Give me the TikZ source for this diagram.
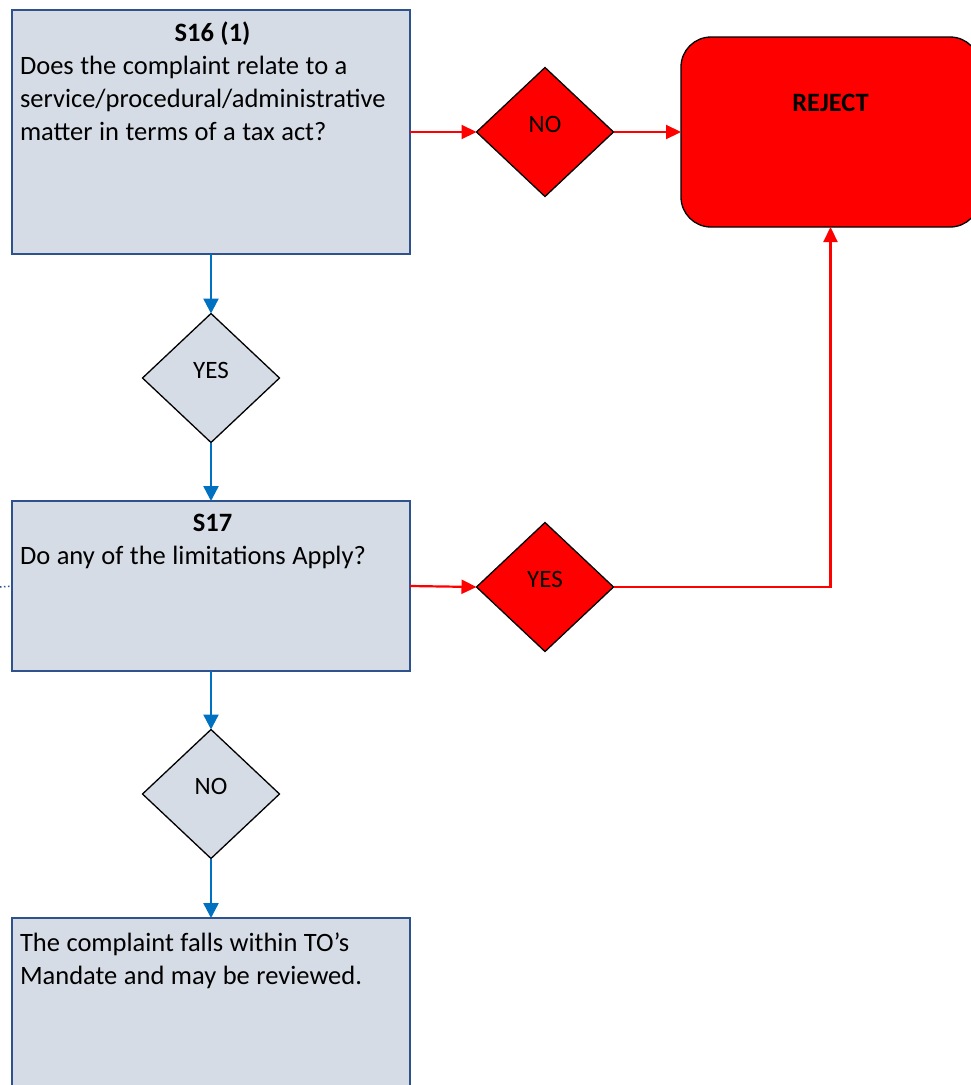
\documentclass[tikz,border=0pt]{standalone}
\usepackage{fontspec}
\setmainfont{Carlito}
\usetikzlibrary{shapes.geometric,arrows.meta}
\definecolor{boxfill}{RGB}{214,220,229}
\definecolor{boxline}{RGB}{47,82,143}
\definecolor{flowblue}{RGB}{0,112,192}

\begin{document}
\begin{tikzpicture}[x=1pt, y=-1pt]
        \tikzstyle{every node}=[inner sep=0pt, outer sep=0pt]
        \tikzstyle{qbox}=[draw=boxline, fill=boxfill, line width=1.5pt, minimum width=398pt]
        \tikzstyle{qtext}=[anchor=north west, text width=385pt, align=left, font=\fontsize{26.5}{33}\selectfont, execute at begin node={\spaceskip=6.5pt\relax}]
        \tikzstyle{choice}=[diamond, draw=black, line width=1.3pt, minimum width=137pt, minimum height=129pt]
        \tikzstyle{clabel}=[anchor=base, font=\fontsize{25}{28}\selectfont]
        \tikzstyle{goon}=[-{Triangle[length=15pt,width=15pt]}, line width=2.5pt, draw=flowblue]
        \tikzstyle{stop}=[-{Triangle[length=15pt,width=14pt]}, line width=2.2pt, draw=red]

        \useasboundingbox (0,0) rectangle (971,1085);

% The question boxes down the left side, the reject box at the top right.

        \node[qbox, minimum height=244pt] (s16) at (211,132) {};
        \node[qbox, minimum height=170pt] (s17) at (211,586) {};
        \node[qbox, minimum height=182pt] (mandate) at (211,1009) {};
        \node[draw=black, fill=red, line width=1.3pt, rounded corners=30pt, minimum width=299pt, minimum height=190pt] (reject) at (830.5,132) {};

        \node[qtext] (s16q) at ([xshift=8pt,yshift=-12pt]s16.north west) {\makebox[\linewidth]{\bfseries S16 (1)}\\Does the complaint relate to a\\service/procedural/administrative\\matter in terms of a tax act?};
        \node[qtext] (s17q) at ([xshift=8pt,yshift=-13pt]s17.north west) {\makebox[\linewidth]{\bfseries S17}\\Do any of the limitations Apply?};
        \node[qtext] (mandateq) at ([xshift=8pt,yshift=-15pt]mandate.north west) {The complaint falls within TO’s\\Mandate and may be reviewed.};
        \node[anchor=base, font=\fontsize{26.5}{28}\selectfont\bfseries] (rejectq) at ([yshift=-74pt]reject.north) {REJECT};

        \node[choice, fill=boxfill] (yes1) at (211,378) {};
        \node[choice, fill=boxfill] (no2) at (211,794) {};
        \node[choice, fill=red] (no1) at (545,132) {};
        \node[choice, fill=red] (yes2) at (545,587) {};
        \node[clabel] (yes1q) at (yes1.center) {YES};
        \node[clabel] (no2q) at (no2.center) {NO};
        \node[clabel] (no1q) at (no1.center) {NO};
        \node[clabel] (yes2q) at (yes2.center) {YES};

        \draw[goon] (s16.south) -- (yes1.north);
        \draw[goon] (yes1.south) -- (s17.north);
        \draw[goon] (s17.south) -- (no2.north);
        \draw[goon] (no2.south) -- (mandate.north);

        \draw[stop] (s16.east) -- (no1.west);
        \draw[stop] (no1.east) -- (reject.west);
        \draw[stop] (s17.east) -- (yes2.west);
        \draw[stop] (yes2.east) -| (reject.south);

        \coordinate (offpage) at (0,587);
        \draw[boxline, line width=1.5pt, dash pattern=on 1.5pt off 2.5pt] (offpage) -- (s17.west);

    \end{tikzpicture}
\end{document}
